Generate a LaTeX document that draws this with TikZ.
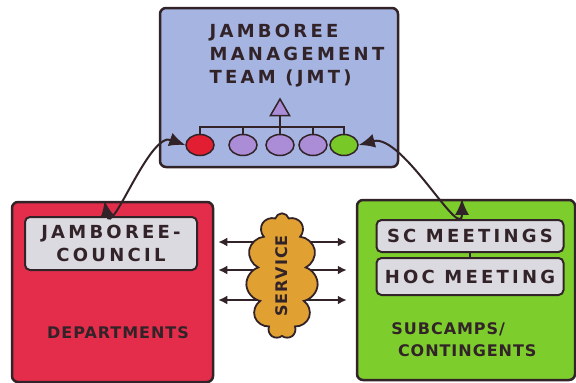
\documentclass[tikz,border=0pt]{standalone}
\usepackage{fontspec}
\setmainfont{DejaVu Sans}[LetterSpace=6]
\usetikzlibrary{shapes.geometric, shapes.symbols, arrows.meta}
\definecolor{ink}{RGB}{50,35,40}
\definecolor{jmtblue}{RGB}{165,180,225}
\definecolor{deptred}{RGB}{228,45,75}
\definecolor{subgreen}{RGB}{125,205,45}
\definecolor{innerfill}{RGB}{220,218,225}
\definecolor{svcorange}{RGB}{225,160,50}
\definecolor{dotred}{RGB}{225,30,50}
\definecolor{dotpurple}{RGB}{170,140,215}
\definecolor{dotgreen}{RGB}{120,200,40}

\begin{document}
\begin{tikzpicture}[x=1pt, y=-1pt, thick,
    bigbox/.style={draw=ink, line width=2.5pt, rounded corners=6pt},
    innerbox/.style={draw=ink, line width=2pt, fill=innerfill, rounded corners=5pt, inner sep=0pt},
    handtext/.style={text=ink, font=\fontsize{16}{22}\selectfont\bfseries, align=center},
    bigtext/.style={handtext, font=\fontsize{18}{23}\selectfont\bfseries\addfontfeature{LetterSpace=18}},
    dot/.style={draw=ink, line width=1.5pt, ellipse, minimum width=28pt, minimum height=21pt, inner sep=0pt},
    tree/.style={draw=ink, line width=1.8pt},
    link/.style={draw=ink, line width=2pt, {Latex[length=16pt,width=14pt]}-{Latex[length=16pt,width=14pt]}},
    svcarrow/.style={draw=ink, line width=1.8pt, -{Latex[length=9pt,width=9pt]}}]
    \useasboundingbox (0,0) rectangle (576,383);

    \node (jmt) [bigbox, fill=jmtblue, minimum width=238pt, minimum height=159pt] at (279,87.5) {};
    \node (jmttext) [bigtext, align=left] at (297,56) {JAMBOREE\\MANAGEMENT\\TEAM (JMT)};

    \node (tri) [draw=ink, line width=1.5pt, fill=dotpurple, regular polygon, regular polygon sides=3, minimum size=22pt, inner sep=0pt] at (280,110) {};
    \node (c1) [dot, fill=dotred] at (200,145) {};
    \node (c2) [dot, fill=dotpurple] at (243,145) {};
    \node (c3) [dot, fill=dotpurple] at (280,145) {};
    \node (c4) [dot, fill=dotpurple] at (313,145) {};
    \node (c5) [dot, fill=dotgreen] at (344,145) {};
    \coordinate (bar) at (280,127);
    \draw[tree] (tri.south) -- (bar);
    \draw[tree] (c1.north) |- (bar) -| (c5.north);
    \draw[tree] (c2.north) -- (c2.north |- bar);
    \draw[tree] (c3.north) -- (c3.north |- bar);
    \draw[tree] (c4.north) -- (c4.north |- bar);

    \node (dept) [bigbox, fill=deptred, minimum width=201pt, minimum height=180pt] at (112.5,292) {};
    \node (council) [innerbox, bigtext, minimum width=172pt, minimum height=53pt] at (111,243.5) {JAMBOREE-\\COUNCIL};
    \node (depttext) [handtext] at (118,333) {DEPARTMENTS};

    \node (sub) [bigbox, fill=subgreen, minimum width=218pt, minimum height=180pt] at (466,290) {};
    \node (sc) [innerbox, bigtext, minimum width=187pt, minimum height=32pt] at (470,236) {SC MEETINGS};
    \node (hoc) [innerbox, bigtext, minimum width=187pt, minimum height=37pt] at (470,276.5) {HOC MEETING};
    \draw[tree] (sc) -- (hoc);
    \node (subtext) [handtext, align=left] at (464,340) {SUBCAMPS/\\\ CONTINGENTS};

    \foreach \y in {242,270,300} {
        \draw[svcarrow, shorten <=2pt, shorten >=4pt] (282,\y) -- (dept.east |- 0,\y);
        \draw[svcarrow, shorten <=2pt, shorten >=9pt] (282,\y) -- (sub.west |- 0,\y);
    }
    \node (svc) [cloud, draw=ink, line width=1.8pt, fill=svcorange, cloud puffs=11, cloud ignores aspect, minimum width=72pt, minimum height=112pt, handtext] at (282,276) {\rotatebox{90}{SERVICE}};

    \draw[link] ([xshift=-8pt]dept.north) to[out=-80, in=160] (c1.west);
    \draw[link] (c5.east) to[out=15, in=-90] ([xshift=-4pt]sub.north);
\end{tikzpicture}
\end{document}
